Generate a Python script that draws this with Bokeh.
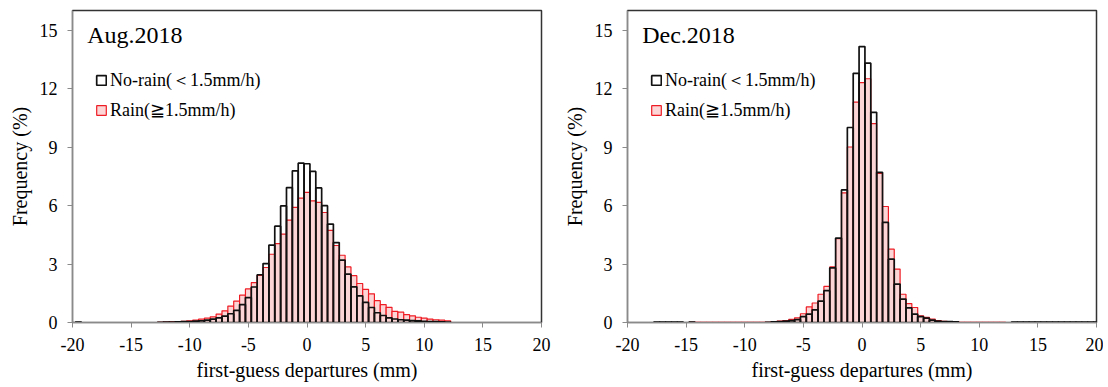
from bokeh.plotting import figure
from bokeh.models import Range1d, FixedTicker, Label, Legend, LegendItem, ColumnDataSource
from bokeh.layouts import row
from bokeh.embed import file_html
from bokeh.resources import INLINE

nan = float("nan")

# bin centres (mm), 0.5 mm bins
bins = [-20.0, -19.5, -19.0, -18.5, -18.0, -17.5, -17.0, -16.5, -16.0, -15.5,
        -15.0, -14.5, -14.0, -13.5, -13.0, -12.5, -12.0, -11.5, -11.0, -10.5,
        -10.0, -9.5, -9.0, -8.5, -8.0, -7.5, -7.0, -6.5, -6.0, -5.5,
        -5.0, -4.5, -4.0, -3.5, -3.0, -2.5, -2.0, -1.5, -1.0, -0.5,
        0.0, 0.5, 1.0, 1.5, 2.0, 2.5, 3.0, 3.5, 4.0, 4.5,
        5.0, 5.5, 6.0, 6.5, 7.0, 7.5, 8.0, 8.5, 9.0, 9.5,
        10.0, 10.5, 11.0, 11.5, 12.0, 12.5, 13.0, 13.5, 14.0, 14.5,
        15.0, 15.5, 16.0, 16.5, 17.0, 17.5, 18.0, 18.5, 19.0, 19.5, 20.0]

# Aug.2018 frequencies (%)
aug_norain = [nan, 0.02, nan, nan, nan, nan, nan, nan, nan, nan,
              nan, nan, nan, nan, nan, 0.01, 0.02, 0.02, 0.03, 0.04,
              0.05, 0.07, 0.09, 0.12, 0.17, 0.24, 0.33, 0.45, 0.62, 0.92,
              1.28, 1.82, 2.45, 3.02, 3.97, 4.94, 5.98, 6.92, 7.78, 8.17,
              8.14, 7.75, 6.90, 5.99, 5.05, 4.10, 3.20, 2.48, 1.83, 1.37,
              1.03, 0.77, 0.50, 0.36, 0.24, 0.18, 0.14, 0.12, 0.10, 0.08,
              0.06, 0.05, 0.04, 0.03, 0.02, nan, nan, nan, nan, nan,
              nan, nan, nan, nan, nan, nan, nan, nan, nan, nan, nan]
aug_rain = [0, 0, 0, 0, 0, 0, 0, 0, 0, 0,
            0, 0, 0, 0, 0, 0.01, 0.02, 0.03, 0.05, 0.06,
            0.09, 0.12, 0.17, 0.22, 0.29, 0.43, 0.60, 0.84, 1.10, 1.40,
            1.72, 2.05, 2.42, 2.82, 3.50, 4.04, 4.53, 5.25, 5.90, 6.38,
            6.67, 6.24, 6.16, 5.64, 4.72, 3.95, 3.45, 2.85, 2.40, 2.00,
            1.70, 1.47, 1.12, 0.92, 0.78, 0.57, 0.53, 0.40, 0.34, 0.27,
            0.22, 0.17, 0.14, 0.12, 0.09, 0, 0, 0, 0, 0,
            0, 0, 0, 0, 0, 0, 0, 0, 0, 0, 0]

# Dec.2018 frequencies (%)
dec_norain = [nan, nan, nan, nan, nan, 0.02, 0.02, 0.02, 0.02, 0.02,
              nan, 0.02, nan, nan, nan, nan, nan, nan, nan, nan,
              nan, nan, nan, nan, 0.01, 0.03, 0.05, 0.07, 0.10, 0.15,
              0.30, 0.43, 0.65, 1.10, 1.63, 2.80, 4.33, 6.80, 10.00, 12.78,
              14.15, 13.30, 10.78, 7.70, 5.13, 3.25, 1.97, 1.20, 0.75, 0.43,
              0.30, 0.22, 0.12, 0.07, 0.05, 0.04, 0.03, nan, nan, nan,
              nan, nan, nan, nan, nan, nan, 0.02, 0.02, 0.02, 0.02,
              0.02, 0.02, 0.02, 0.02, 0.02, 0.02, 0.02, 0.02, 0.02, 0.02, 0.02]
dec_rain = [0, 0, 0, 0, 0, 0, 0, 0, 0, 0,
            0, 0.01, 0.01, 0.01, 0.01, 0.01, 0.01, 0.01, 0.01, 0.01,
            0.01, 0.01, 0.01, 0.01, 0.01, 0.05, 0.07, 0.10, 0.16, 0.24,
            0.45, 0.80, 1.00, 1.45, 1.85, 2.85, 4.30, 6.65, 9.00, 11.30,
            12.30, 12.50, 10.20, 7.65, 5.95, 3.76, 2.74, 1.45, 0.97, 0.77,
            0.34, 0.26, 0.17, 0.10, 0.06, 0.04, 0.03, 0.01, 0.01, 0.01,
            0.01, 0.01, 0.01, 0.01, 0.01, 0, 0, 0, 0, 0,
            0, 0, 0, 0, 0, 0, 0, 0, 0, 0, 0]

x_ticks = [-20, -15, -10, -5, 0, 5, 10, 15, 20]
y_ticks = [0, 3, 6, 9, 12, 15]
panel_titles = ["Aug.2018", "Dec.2018"]
legend_labels = ["No-rain(\uff1c1.5mm/h)", "Rain(\u22671.5mm/h)"]
x_label = "first-guess departures (mm)"
y_label = "Frequency (%)"

SERIF = "Liberation Serif"


def make_panel(title, norain, rain, border_left, border_right):
    p = figure(frame_width=469, frame_height=312,
               x_range=Range1d(-20, 20), y_range=Range1d(0, 16),
               output_backend="svg", toolbar_location=None,
               min_border_left=border_left, min_border_right=border_right,
               min_border_top=10, min_border_bottom=64)
    src = ColumnDataSource(dict(x=bins, norain=norain, rain=rain))
    r_rain = p.vbar(x="x", top="rain", bottom=0, width=0.5, source=src,
                    fill_color="#fcd6d6", line_color="#ee1c24", line_width=1.2)
    r_no = p.vbar(x="x", top="norain", bottom=0, width=0.5, source=src,
                  fill_color=None, line_color="#111111", line_width=1.7)

    p.xgrid.visible = False
    p.ygrid.visible = False
    p.outline_line_color = "#333333"
    p.outline_line_width = 1.5
    p.background_fill_color = "white"

    for ax in (p.xaxis[0], p.yaxis[0]):
        ax.axis_line_color = "#8a8a8a"
        ax.major_tick_line_color = "#8a8a8a"
        ax.major_tick_out = 5
        ax.major_tick_in = 0
        ax.minor_tick_line_color = None
        ax.major_label_text_font = SERIF
        ax.major_label_text_font_size = "18px"
        ax.major_label_text_color = "black"
        ax.axis_label_text_font = SERIF
        ax.axis_label_text_font_size = "20px"
        ax.axis_label_text_font_style = "normal"
        ax.axis_label_text_color = "black"
    p.xaxis.ticker = FixedTicker(ticks=x_ticks)
    p.yaxis.ticker = FixedTicker(ticks=y_ticks)
    p.xaxis.major_label_overrides = {t: str(t) for t in x_ticks}
    p.yaxis.major_label_overrides = {t: str(t) for t in y_ticks}
    p.xaxis.axis_label = x_label
    p.yaxis.axis_label = y_label
    p.xaxis.major_label_standoff = 10
    p.xaxis.axis_label_standoff = 5
    p.yaxis.major_label_standoff = 10
    p.yaxis.axis_label_standoff = 6

    p.add_layout(Label(x=-18.75, y=14.74, text=title, text_font=SERIF,
                       text_font_size="24px", text_color="black",
                       text_baseline="alphabetic"))

    legend = Legend(items=[LegendItem(label=legend_labels[0], renderers=[r_no]),
                           LegendItem(label=legend_labels[1], renderers=[r_rain])],
                    location=(23, 201), orientation="vertical",
                    border_line_color=None, background_fill_alpha=0,
                    padding=0, margin=0, spacing=7,
                    glyph_width=12, glyph_height=12, label_standoff=3,
                    label_height=20,
                    label_text_font=SERIF, label_text_font_size="18px",
                    label_text_color="black")
    p.add_layout(legend)
    return p


p1 = make_panel(panel_titles[0], aug_norain, aug_rain, 72, 19)
p2 = make_panel(panel_titles[1], dec_norain, dec_rain, 64, 7)
layout = row(p1, p2)

open("out.html", "w").write(file_html(layout, INLINE))
